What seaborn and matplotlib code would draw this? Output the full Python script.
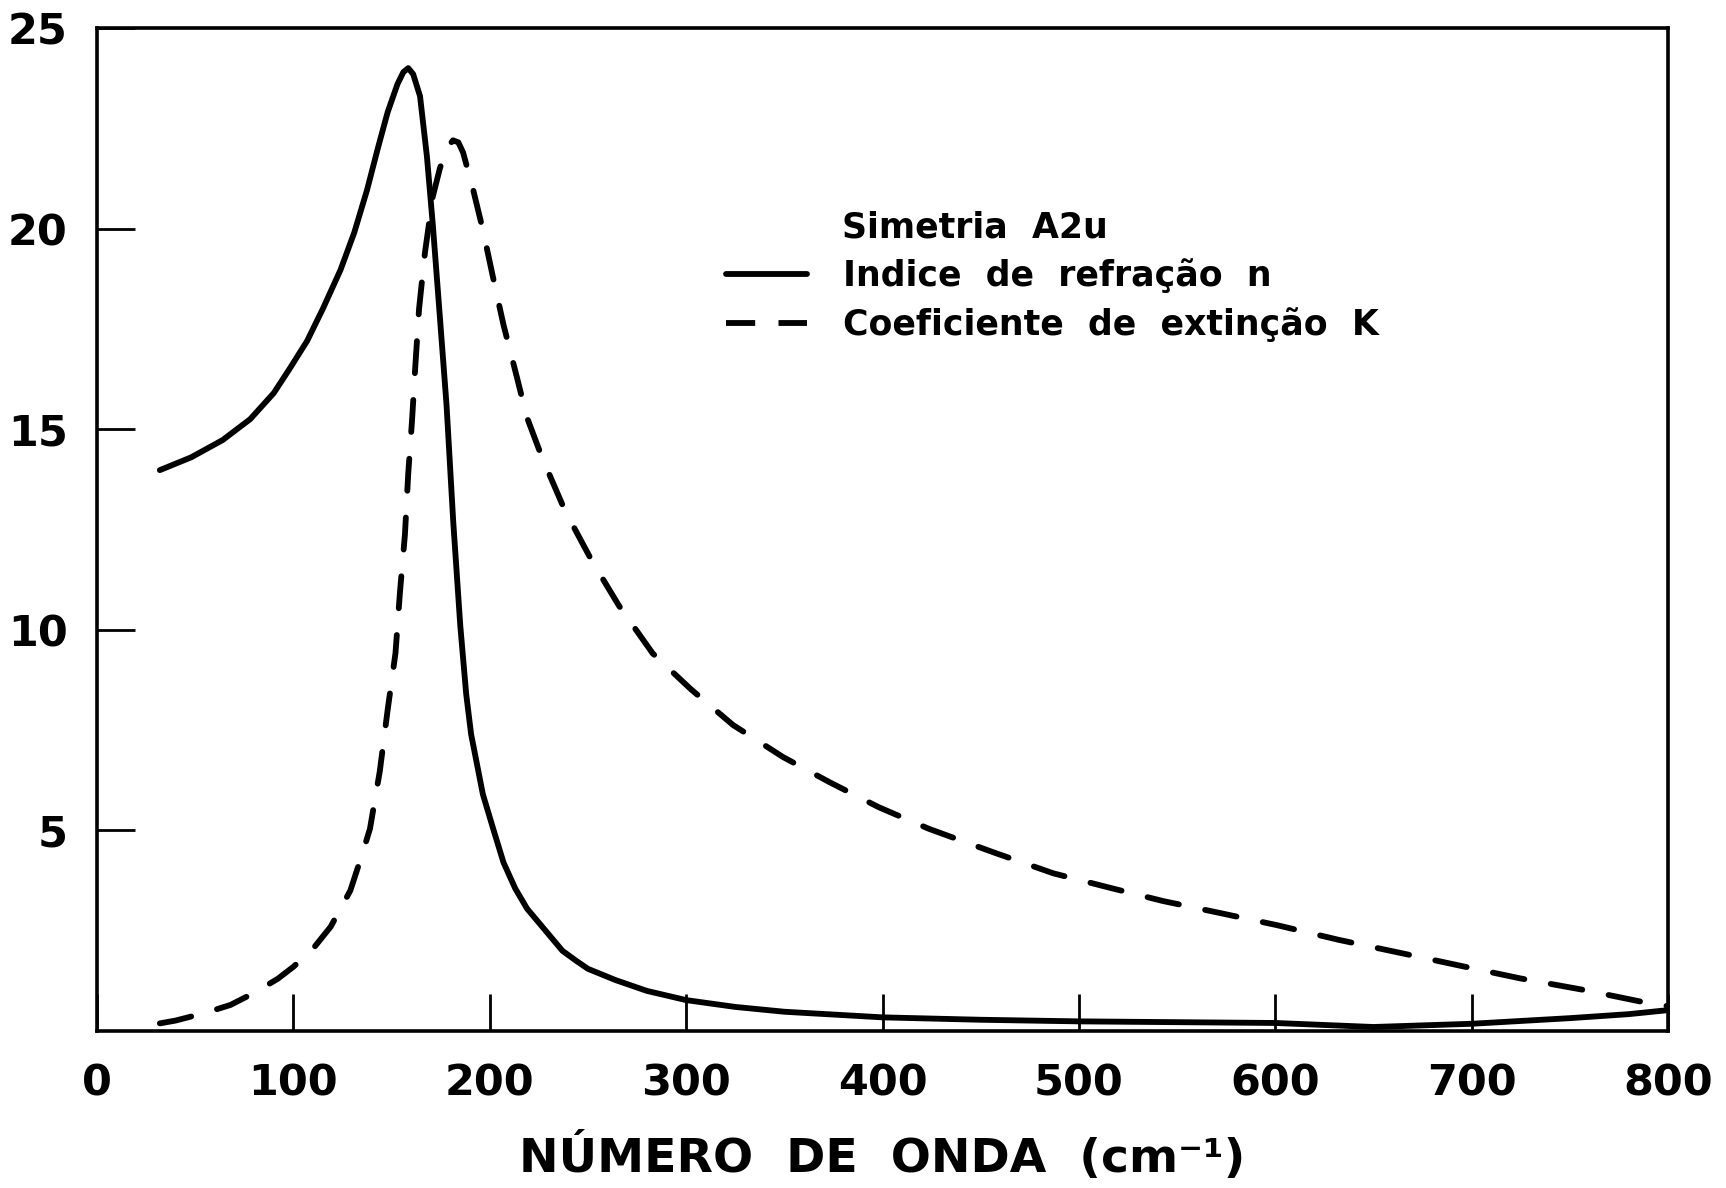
import matplotlib
matplotlib.use("Agg")
import matplotlib.pyplot as plt
import seaborn as sns
import pandas as pd
from matplotlib.lines import Line2D

# ---- data ----
n_x = [32, 48, 64, 78, 90, 98, 107, 115, 124, 131, 137.5, 143, 148, 153, 156, 158.5,
       161, 164.5, 168, 171, 174.6, 178, 181.4, 185, 188, 190.5, 196.5, 202, 207, 213,
       219, 225, 231, 237, 244, 250, 264, 280, 300, 325, 350, 400, 450, 500, 550, 600,
       650, 700, 750, 780, 800]
n_y = [13.98, 14.3, 14.73, 15.25, 15.9, 16.5, 17.2, 18.0, 18.97, 19.9, 20.96, 22.0,
       22.9, 23.6, 23.9, 24.0, 23.85, 23.3, 21.8, 20.1, 17.8, 15.6, 12.7, 10.1, 8.4,
       7.4, 5.9, 5.0, 4.2, 3.55, 3.05, 2.7, 2.35, 2.0, 1.75, 1.55, 1.27, 1.0, 0.77, 0.6,
       0.48, 0.34, 0.28, 0.24, 0.22, 0.2, 0.1, 0.18, 0.32, 0.42, 0.52]

k_x = [32, 40, 55, 68, 80, 92, 100, 110, 119, 129, 135, 139, 144, 148, 152, 154.3,
       156.8, 158.5, 160.4, 162, 164, 167, 171, 174.6, 178, 181.3, 184, 186.4, 191.4,
       196.5, 201.6, 207, 213.8, 218.9, 226.6, 238.3, 252, 265.8, 283, 302.4, 323.8,
       349.3, 372.7, 398, 423.6, 456.7, 487, 516.6, 542.8, 570, 600.7, 632.5, 664.3,
       693.9, 724.9, 757.5, 790.4, 800]
k_y = [0.19, 0.26, 0.45, 0.65, 0.95, 1.3, 1.6, 2.05, 2.6, 3.5, 4.4, 5.04, 6.47, 8.0,
       9.42, 10.95, 12.37, 13.9, 15.2, 16.5, 18.0, 19.4, 20.8, 21.5, 22.0, 22.2, 22.15,
       21.9, 21.0, 19.97, 18.8, 17.6, 16.3, 15.3, 14.3, 12.97, 11.72, 10.6, 9.41, 8.52,
       7.63, 6.83, 6.21, 5.58, 5.04, 4.45, 3.93, 3.56, 3.24, 2.96, 2.64, 2.27, 1.94,
       1.63, 1.31, 1.02, 0.69, 0.62]

x_ticks = [0, 100, 200, 300, 400, 500, 600, 700, 800]
y_ticks = [5, 10, 15, 20, 25]

legend_title = "Simetria  A2u"
label_n = "Indice  de  refração  n"
label_k = "Coeficiente  de  extinção  K"
x_label = "NÚMERO  DE  ONDA  (cm⁻¹)"

df_n = pd.DataFrame({"x": n_x, "y": n_y})
df_k = pd.DataFrame({"x": k_x, "y": k_y})

sns.set_theme(style="white")
plt.rcParams["font.family"] = ["DejaVu Sans"]

W, H = 1726, 1188
fig = plt.figure(figsize=(W / 100, H / 100), dpi=100)
fig.patch.set_facecolor("white")
L, R, T, B = 97, 1668, 28, 1031
ax = fig.add_axes([L / W, 1 - B / H, (R - L) / W, (B - T) / H])
ax.set_facecolor("white")

lw = 4.2
sns.lineplot(data=df_n, x="x", y="y", ax=ax, color="black", linewidth=lw,
             estimator=None, sort=False, solid_capstyle="round",
             solid_joinstyle="round")
sns.lineplot(data=df_k, x="x", y="y", ax=ax, color="black", linewidth=lw,
             estimator=None, sort=False, linestyle=(0, (5.5, 4.6)),
             dash_capstyle="round", dash_joinstyle="round")

ax.set_xlim(0, 800)
ax.set_ylim(0, 25)
ax.set_xticks(x_ticks)
ax.set_yticks(y_ticks)
ax.set_xticklabels([str(v) for v in x_ticks])
ax.set_yticklabels([str(v) for v in y_ticks])
ax.tick_params(axis="both", which="major", direction="in", length=27, width=2.0,
               color="black", labelsize=31, labelcolor="black",
               bottom=True, left=True, top=False, right=False)
ax.tick_params(axis="x", pad=23)
ax.tick_params(axis="y", pad=21)
for lab in ax.get_xticklabels() + ax.get_yticklabels():
    lab.set_fontweight("bold")

for sp in ax.spines.values():
    sp.set_visible(True)
    sp.set_color("black")
    sp.set_linewidth(2.6)

ax.set_xlabel(x_label, fontsize=34, fontweight="bold", labelpad=20, color="black")
ax.set_ylabel("")

# legend
fs_leg = 25
handles = [Line2D([], [], color="black", linewidth=lw),
           Line2D([], [], color="black", linewidth=lw, linestyle=(0, (5.0, 4.0)))]
leg = ax.legend(handles, [label_n, label_k], loc="upper left",
                bbox_to_anchor=((726 - L) / (R - L), 1 - (258 - T) / (B - T)),
                frameon=False, handlelength=2.32, handletextpad=1.04,
                labelspacing=0.42, borderaxespad=0, borderpad=0,
                prop={"size": fs_leg, "weight": "bold"})
for t in leg.get_texts():
    t.set_color("black")
ax.text((842 - L) / (R - L), 1 - (228 - T) / (B - T), legend_title,
        transform=ax.transAxes, fontsize=fs_leg, fontweight="bold", va="center",
        ha="left", color="black")

fig.savefig("out.png", dpi=100, facecolor="white")
